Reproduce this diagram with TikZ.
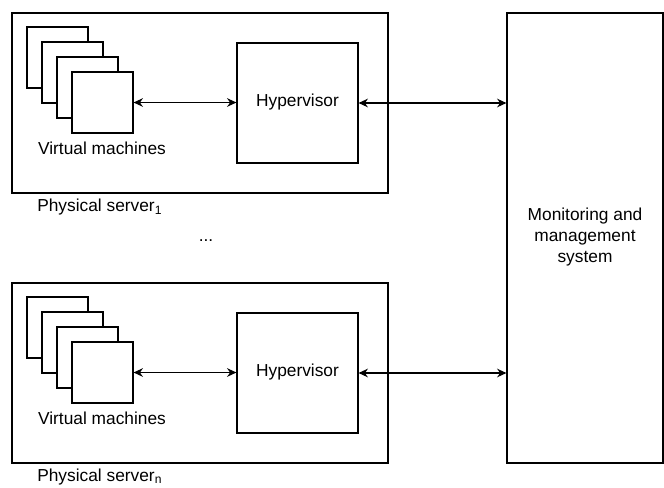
\documentclass[tikz,border=0pt]{standalone}
\usepackage{fontspec}
\setmainfont{Liberation Sans}
\usetikzlibrary{arrows.meta}
\tikzset{
  box/.style={draw, line width=0.9pt, fill=white, inner sep=0pt, minimum width=#1},
  vm/.style={draw, line width=0.9pt, fill=white, inner sep=0pt, minimum width=45.75pt, minimum height=45.75pt},
  lbl/.style={inner sep=0pt, font=\fontsize{13}{15.4}\selectfont},
  link/.style={line width=0.9pt, {Stealth[length=7pt,width=6.5pt]}-{Stealth[length=7pt,width=6.5pt]}}
}
\begin{document}
\begin{tikzpicture}[x=0.75pt,y=-0.75pt]
\useasboundingbox (0,0) rectangle (664,487);
% monitoring system
\node[box=117pt, minimum height=337.5pt] (mon) at (585,238) {};
\node[lbl, align=center] (montxt) at (585,237) {Monitoring and\\management\\system};
% server 1
\node[box=282pt, minimum height=135pt] (srv1) at (200,103) {};
\node[vm] (vm1a) at (57.5,57.5) {};
\node[vm] (vm1b) at (72.5,72.5) {};
\node[vm] (vm1c) at (87.5,87.5) {};
\node[vm] (vm1d) at (102.5,102.5) {};
\node[box=90.75pt, minimum height=90pt] (hyp1) at (297.5,103) {};
\node[lbl] (hyp1txt) at (297.5,102) {Hypervisor};
\node[lbl] (vm1txt) at (102,148) {Virtual machines};
\node[lbl, anchor=west] (srv1txt) at (37,207) {Physical server\textsubscript{1}};
\draw[link] (vm1d.east) -- (hyp1.west |- vm1d.east);
\draw[link] (hyp1.east) -- (mon.west |- hyp1.east);
% dots
\node[lbl] (dots) at (206,241) {...};
% server n
\node[box=282pt, minimum height=135pt] (srvn) at (200,373) {};
\node[vm] (vmna) at (57.5,327.5) {};
\node[vm] (vmnb) at (72.5,342.5) {};
\node[vm] (vmnc) at (87.5,357.5) {};
\node[vm] (vmnd) at (102.5,372.5) {};
\node[box=90.75pt, minimum height=90pt] (hypn) at (297.5,373) {};
\node[lbl] (hypntxt) at (297.5,372) {Hypervisor};
\node[lbl] (vmntxt) at (102,418) {Virtual machines};
\node[lbl, anchor=west] (srvntxt) at (37,477) {Physical server\textsubscript{n}};
\draw[link] (vmnd.east) -- (hypn.west |- vmnd.east);
\draw[link] (hypn.east) -- (mon.west |- hypn.east);
\end{tikzpicture}
\end{document}
